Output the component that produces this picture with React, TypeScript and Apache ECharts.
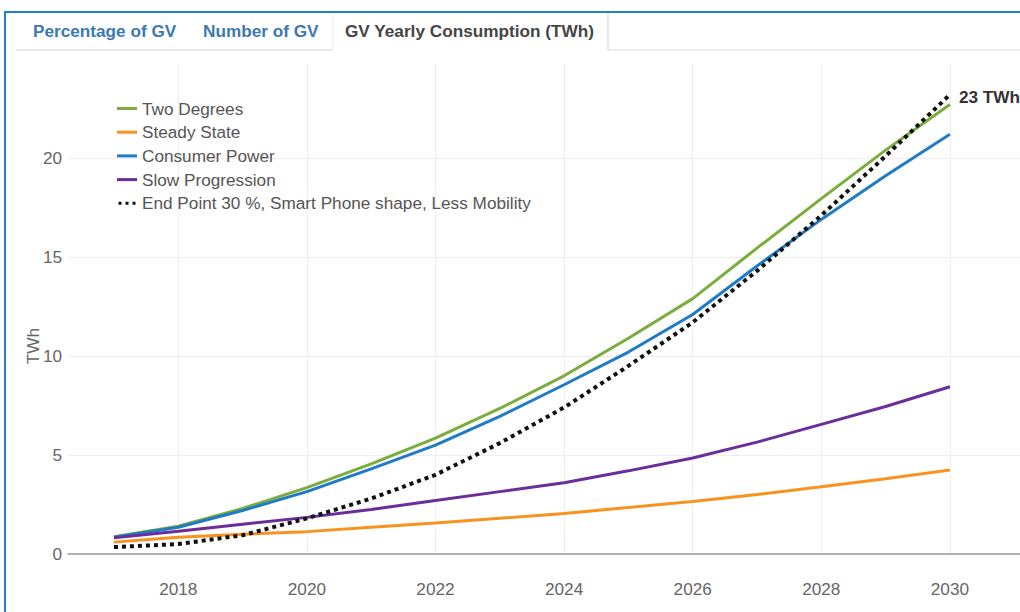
import React, { useEffect, useRef } from "react";
import * as echarts from "echarts";

const years = [2017, 2018, 2019, 2020, 2021, 2022, 2023, 2024, 2025, 2026, 2027, 2028, 2029, 2030];
const twoDegrees = [0.87, 1.4, 2.3, 3.35, 4.55, 5.85, 7.35, 9.0, 10.9, 12.9, 15.45, 17.95, 20.4, 22.7];
const steadyState = [0.6, 0.85, 1.0, 1.13, 1.35, 1.57, 1.8, 2.05, 2.35, 2.65, 3.0, 3.4, 3.8, 4.24];
const consumerPower = [0.85, 1.35, 2.2, 3.15, 4.3, 5.5, 6.95, 8.55, 10.2, 12.1, 14.55, 16.9, 19.1, 21.2];
const slowProgression = [0.82, 1.15, 1.5, 1.85, 2.25, 2.7, 3.15, 3.6, 4.2, 4.85, 5.65, 6.55, 7.45, 8.45];
const endPoint = [0.35, 0.5, 0.95, 1.8, 2.8, 4.0, 5.6, 7.4, 9.5, 11.7, 14.3, 17.1, 20.1, 23.2];

const seriesNames = [
  "Two Degrees",
  "Steady State",
  "Consumer Power",
  "Slow Progression",
  "End Point 30 %, Smart Phone shape, Less Mobility",
];
const seriesColors = ["#7bad3c", "#f7931e", "#1f7bc6", "#6a2d99", "#111111"];
const tabLabels = ["Percentage of GV", "Number of GV", "GV Yearly Consumption (TWh)"];
const yAxisTitle = "TWh";
const endLabelText = "23 TWh";

const FONT = "'Liberation Sans', Arial, Helvetica, sans-serif";
const FS = 17.2;

export default function App() {
  const ref = useRef<HTMLDivElement>(null);

  useEffect(() => {
    if (!ref.current) return;
    const chart = echarts.init(ref.current, null, { renderer: "svg" });
    const values = [twoDegrees, steadyState, consumerPower, slowProgression, endPoint];

    const series = values.map((arr, i) => {
      const isDotted = i === 4;
      return {
        name: seriesNames[i],
        type: "line",
        data: years.map((y, k) => [y, arr[k]]),
        showSymbol: false,
        symbol: "none",
        smooth: false,
        z: isDotted ? 5 : 2,
        lineStyle: isDotted
          ? { color: seriesColors[i], width: 4, type: [4, 4], cap: "butt" }
          : { color: seriesColors[i], width: 3 },
        itemStyle: { color: seriesColors[i] },
        endLabel: isDotted
          ? {
              show: true,
              formatter: endLabelText,
              distance: 9,
              color: "#333",
              fontWeight: "bold",
              fontSize: FS,
              fontFamily: FONT,
              offset: [0, 2],
            }
          : { show: false },
      };
    });

    const legendData = seriesNames.map((n, i) => ({
      name: n,
      icon:
        i === 4
          ? "path://M0,0h3v3h-3z M7,0h3v3h-3z M14,0h3v3h-3z"
          : "rect",
    }));

    const tabPositions = [33, 203, 345];
    const graphic: any[] = [
      {
        type: "line",
        silent: true,
        shape: { x1: 16, y1: 50, x2: 333, y2: 50 },
        style: { stroke: "#e2e2e2", lineWidth: 1.5 },
      },
      {
        type: "line",
        silent: true,
        shape: { x1: 608, y1: 50, x2: 1020, y2: 50 },
        style: { stroke: "#e6e6e6", lineWidth: 1.5 },
      },
      {
        type: "line",
        silent: true,
        shape: { x1: 333, y1: 13, x2: 333, y2: 50 },
        style: { stroke: "#ebebeb", lineWidth: 1 },
      },
      {
        type: "line",
        silent: true,
        shape: { x1: 608, y1: 13, x2: 608, y2: 50 },
        style: { stroke: "#dcdcdc", lineWidth: 1.5 },
      },
      ...tabLabels.map((t, i) => ({
        type: "text",
        silent: true,
        x: tabPositions[i],
        y: 31,
        style: {
          text: t,
          fill: i === 2 ? "#454545" : "#3b78b4",
          font: `bold ${FS}px ${FONT}`,
          textAlign: "left",
          textVerticalAlign: "middle",
        },
      })),
      {
        type: "text",
        silent: true,
        x: 33,
        y: 346,
        rotation: Math.PI / 2,
        style: {
          text: yAxisTitle,
          fill: "#666",
          font: `${FS}px ${FONT}`,
          textAlign: "center",
          textVerticalAlign: "middle",
        },
      },
      {
        type: "rect",
        silent: true,
        z: 100,
        shape: { x: 5, y: 12, width: 1200, height: 800 },
        style: { fill: "none", stroke: "#1f80d2", lineWidth: 2 },
      },
    ];

    chart.setOption({
      animation: false,
      backgroundColor: "#ffffff",
      textStyle: { fontFamily: FONT },
      grid: { left: 68, right: 0, top: 63, bottom: 58, containLabel: false },
      legend: {
        show: true,
        orient: "vertical",
        left: 117,
        top: 100,
        padding: 0,
        itemWidth: 20,
        itemHeight: 3,
        itemGap: 6.7,
        data: legendData,
        selectedMode: false,
        textStyle: { color: "#555", fontSize: FS, fontFamily: FONT, lineHeight: 17, padding: [0, 0, 0, 0] },
      },
      xAxis: {
        type: "value",
        min: 2016.285,
        max: 2031.09,
        splitNumber: 7,
        minInterval: 2,
        maxInterval: 2,
        axisLine: { show: true, lineStyle: { color: "#999", width: 1.5 } },
        axisTick: { show: false },
        axisLabel: {
          showMinLabel: false,
          showMaxLabel: false,
          color: "#666",
          fontSize: FS,
          fontFamily: FONT,
          margin: 26,
          formatter: (v: number) =>
            Math.abs(v - Math.round(v)) < 1e-6 && Math.round(v) % 2 === 0 ? String(Math.round(v)) : "",
        },
        splitLine: {
          show: true,
          showMinLine: false,
          showMaxLine: false,
          lineStyle: { color: "#f0f0f0", width: 1 },
        },
      },
      yAxis: {
        type: "value",
        min: 0,
        max: 24.8,
        splitNumber: 5,
        minInterval: 5,
        maxInterval: 5,
        axisLine: { show: false },
        axisTick: { show: false },
        axisLabel: {
          showMaxLabel: false,
          color: "#666",
          fontSize: FS,
          fontFamily: FONT,
          margin: 6,
          formatter: (v: number) =>
            Math.abs(v - Math.round(v)) < 1e-6 && Math.round(v) % 5 === 0 ? String(Math.round(v)) : "",
        },
        splitLine: {
          show: true,
          showMinLine: false,
          showMaxLine: false,
          lineStyle: { color: "#eeeeee", width: 1 },
        },
      },
      series,
      graphic,
    });

    return () => {
      chart.dispose();
    };
  }, []);

  return (
    <div
      ref={ref}
      style={{ position: "fixed", left: 0, top: 0, width: 1020, height: 612, background: "#fff" }}
    />
  );
}
